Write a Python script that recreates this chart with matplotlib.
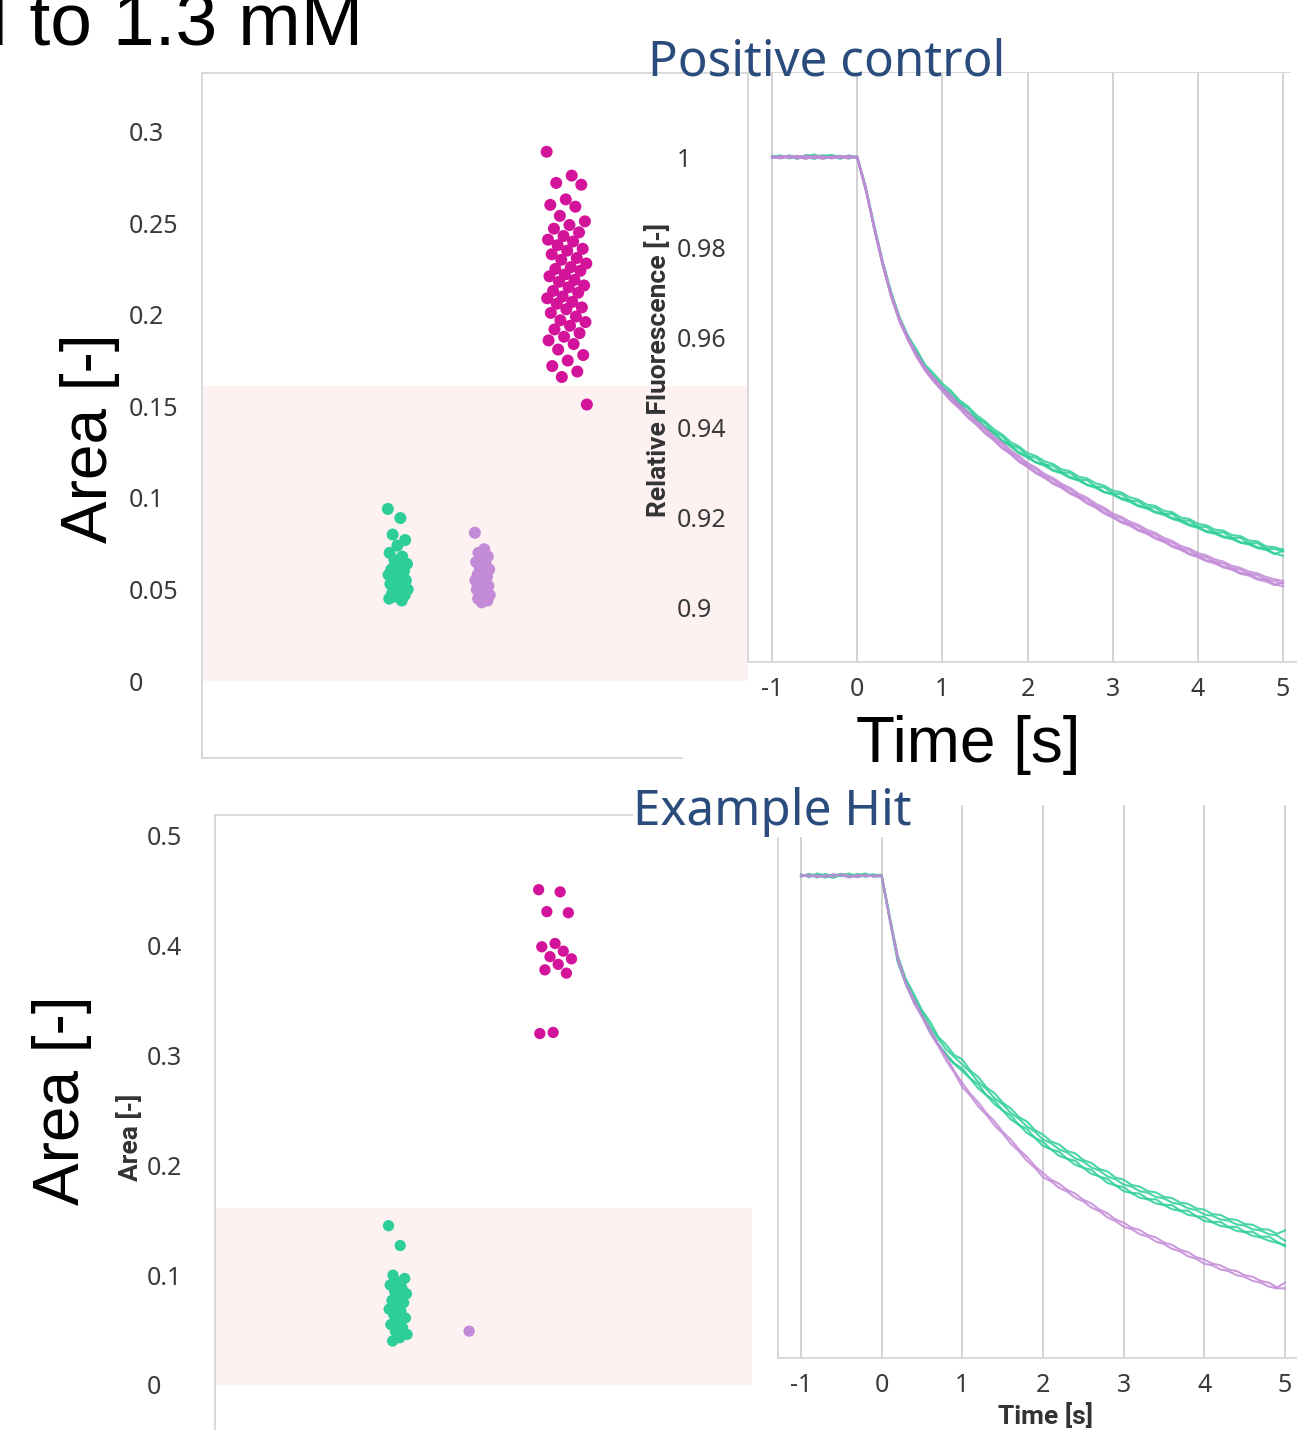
import numpy as np
import matplotlib
matplotlib.use("Agg")
import matplotlib.pyplot as plt
from matplotlib.patches import Rectangle

# ---- datos: puntos de área (scatter) ----
top_green = [0.094, 0.089, 0.080, 0.077, 0.074, 0.070, 0.068, 0.066, 0.064, 0.063,
             0.061, 0.060, 0.059, 0.058, 0.057, 0.056, 0.055, 0.054, 0.053, 0.052,
             0.051, 0.050, 0.049, 0.048, 0.047, 0.046, 0.045, 0.044]
top_purple = [0.081, 0.072, 0.070, 0.068, 0.067, 0.065, 0.064, 0.062, 0.061, 0.060,
              0.058, 0.057, 0.056, 0.055, 0.054, 0.053, 0.052, 0.051, 0.050, 0.049,
              0.048, 0.047, 0.046, 0.045, 0.044, 0.043]
top_magenta = [0.289, 0.276, 0.272, 0.271, 0.263, 0.260, 0.259, 0.254, 0.251, 0.249,
               0.247, 0.245, 0.243, 0.241, 0.240, 0.238, 0.236, 0.235, 0.233, 0.231,
               0.230, 0.228, 0.226, 0.225, 0.224, 0.222, 0.221, 0.219, 0.218, 0.216,
               0.215, 0.213, 0.212, 0.210, 0.209, 0.207, 0.206, 0.204, 0.203, 0.201,
               0.199, 0.197, 0.196, 0.194, 0.192, 0.190, 0.188, 0.186, 0.184, 0.181,
               0.178, 0.175, 0.172, 0.169, 0.166, 0.151]

bot_green = [0.145, 0.127, 0.100, 0.097, 0.094, 0.091, 0.088, 0.085, 0.083, 0.080,
             0.077, 0.075, 0.072, 0.069, 0.067, 0.064, 0.061, 0.058, 0.055, 0.052,
             0.049, 0.046, 0.043, 0.040]
bot_purple = [0.049]
bot_magenta = [0.451, 0.449, 0.431, 0.430, 0.402, 0.399, 0.395, 0.390, 0.388, 0.383,
               0.378, 0.375, 0.321, 0.320]

hit_limit = 0.161   # banda rosa (zona sin efecto)

# ---- datos: curvas de fluorescencia (x1e-4), t = -1 ... 5 s cada 0.1 s ----
time_s = np.linspace(-1, 5, 61)

pos_green = [
    [10003, 9998, 10004, 9999, 10002, 10006, 9997, 10001, 10003, 9998, 10002,
     9928, 9849, 9768, 9700, 9643, 9602, 9571, 9538, 9519, 9497,
     9481, 9460, 9446, 9427, 9413, 9396, 9384, 9367, 9357, 9342,
     9336, 9324, 9318, 9306, 9302, 9290, 9286, 9275, 9270, 9259,
     9255, 9244, 9239, 9228, 9225, 9214, 9211, 9199, 9196, 9185,
     9182, 9172, 9170, 9160, 9158, 9148, 9146, 9135, 9133, 9128],
    [10001, 10004, 9997, 10002, 10000, 9996, 10003, 10005, 9999, 10002, 9998,
     9932, 9843, 9762, 9692, 9637, 9597, 9561, 9532, 9507, 9490,
     9468, 9454, 9433, 9420, 9401, 9389, 9371, 9360, 9344, 9335,
     9322, 9318, 9305, 9300, 9289, 9284, 9272, 9268, 9256, 9252,
     9242, 9237, 9226, 9222, 9212, 9208, 9198, 9193, 9184, 9178,
     9169, 9166, 9157, 9154, 9144, 9142, 9133, 9130, 9119, 9114],
    [9998, 10002, 10001, 9996, 10005, 10001, 9999, 10003, 9996, 10004, 10000,
     9935, 9846, 9766, 9697, 9641, 9598, 9567, 9533, 9514, 9491,
     9476, 9455, 9442, 9421, 9409, 9390, 9380, 9361, 9353, 9336,
     9332, 9317, 9314, 9300, 9298, 9284, 9282, 9268, 9266, 9253,
     9251, 9237, 9235, 9222, 9221, 9208, 9207, 9193, 9192, 9179,
     9178, 9166, 9166, 9154, 9154, 9142, 9142, 9130, 9129, 9124],
    [10002, 9999, 10003, 10001, 9997, 10002, 10004, 9998, 10001, 9997, 10001,
     9929, 9840, 9760, 9690, 9636, 9595, 9560, 9530, 9505, 9486,
     9466, 9450, 9432, 9417, 9399, 9386, 9369, 9357, 9342, 9332,
     9321, 9314, 9303, 9297, 9287, 9281, 9271, 9265, 9255, 9250,
     9240, 9234, 9224, 9219, 9210, 9205, 9196, 9190, 9181, 9176,
     9167, 9163, 9155, 9151, 9143, 9139, 9131, 9127, 9118, 9125],
]
pos_purple = [
    [10001, 9997, 10002, 10000, 9996, 10003, 9999, 10001, 9998, 10002, 9999,
     9927, 9846, 9766, 9695, 9640, 9598, 9563, 9532, 9510, 9489,
     9471, 9450, 9434, 9414, 9399, 9380, 9366, 9349, 9336, 9320,
     9310, 9296, 9287, 9274, 9265, 9252, 9243, 9230, 9221, 9208,
     9201, 9190, 9183, 9172, 9165, 9154, 9147, 9136, 9130, 9120,
     9115, 9106, 9101, 9092, 9087, 9079, 9075, 9067, 9062, 9058],
    [9999, 10002, 9998, 10003, 10001, 9997, 10002, 9998, 10003, 9999, 10001,
     9933, 9840, 9759, 9690, 9633, 9592, 9555, 9525, 9501, 9481,
     9460, 9444, 9423, 9408, 9388, 9374, 9355, 9343, 9325, 9314,
     9299, 9290, 9276, 9268, 9254, 9246, 9232, 9224, 9210, 9202,
     9190, 9184, 9172, 9166, 9154, 9148, 9136, 9130, 9119, 9114,
     9104, 9100, 9090, 9086, 9076, 9073, 9064, 9061, 9051, 9046],
    [10002, 9998, 10001, 9997, 10003, 10000, 9996, 10002, 10000, 9997, 10002,
     9931, 9844, 9764, 9694, 9637, 9597, 9559, 9530, 9506, 9487,
     9467, 9445, 9430, 9409, 9395, 9375, 9362, 9344, 9332, 9315,
     9306, 9291, 9283, 9269, 9261, 9247, 9239, 9225, 9217, 9203,
     9197, 9185, 9179, 9167, 9161, 9149, 9143, 9131, 9126, 9115,
     9111, 9101, 9097, 9087, 9083, 9074, 9071, 9062, 9058, 9052],
    [9998, 10001, 10003, 9999, 9998, 10002, 10001, 9997, 10001, 10003, 9998,
     9928, 9841, 9760, 9689, 9634, 9593, 9556, 9526, 9502, 9480,
     9458, 9441, 9421, 9405, 9386, 9371, 9353, 9340, 9323, 9311,
     9297, 9287, 9274, 9265, 9252, 9243, 9230, 9221, 9208, 9199,
     9188, 9181, 9170, 9163, 9152, 9145, 9134, 9127, 9117, 9111,
     9102, 9097, 9088, 9083, 9074, 9070, 9061, 9057, 9049, 9055],
]
hit_green = [
    [10004, 9997, 10006, 10001, 9995, 10003, 9999, 10005, 9998, 10002, 10003,
     9901, 9805, 9748, 9712, 9672, 9645, 9608, 9588, 9563, 9552,
     9525, 9509, 9484, 9470, 9447, 9433, 9412, 9401, 9380, 9369,
     9352, 9345, 9329, 9323, 9307, 9300, 9285, 9279, 9264, 9259,
     9246, 9242, 9231, 9228, 9217, 9214, 9203, 9200, 9189, 9186,
     9175, 9173, 9163, 9161, 9151, 9149, 9139, 9137, 9127, 9135],
    [9998, 10005, 10000, 9996, 10004, 9999, 10006, 9997, 10003, 10000, 9998,
     9893, 9790, 9735, 9695, 9658, 9620, 9590, 9566, 9543, 9530,
     9506, 9491, 9465, 9452, 9428, 9416, 9393, 9383, 9361, 9351,
     9333, 9327, 9310, 9305, 9288, 9283, 9266, 9261, 9245, 9241,
     9227, 9225, 9212, 9211, 9198, 9197, 9184, 9183, 9170, 9168,
     9156, 9156, 9144, 9144, 9132, 9132, 9120, 9120, 9108, 9096],
    [10001, 10003, 9996, 10005, 10000, 10004, 9997, 10002, 10006, 9998, 10001,
     9898, 9798, 9745, 9703, 9668, 9634, 9603, 9577, 9558, 9540,
     9521, 9497, 9480, 9458, 9443, 9422, 9408, 9389, 9376, 9357,
     9348, 9333, 9325, 9311, 9303, 9289, 9281, 9267, 9260, 9247,
     9242, 9231, 9227, 9217, 9213, 9203, 9199, 9189, 9185, 9174,
     9171, 9162, 9159, 9150, 9147, 9138, 9135, 9126, 9123, 9110],
    [10002, 9999, 10004, 9997, 10001, 10005, 10002, 9998, 10001, 10004, 9999,
     9896, 9793, 9738, 9694, 9660, 9624, 9589, 9562, 9541, 9524,
     9505, 9481, 9465, 9443, 9428, 9406, 9393, 9373, 9361, 9341,
     9333, 9317, 9310, 9295, 9288, 9273, 9267, 9251, 9245, 9231,
     9226, 9215, 9211, 9201, 9197, 9187, 9183, 9173, 9170, 9158,
     9155, 9146, 9143, 9134, 9131, 9122, 9118, 9110, 9105, 9100],
]
hit_purple = [
    [10003, 9998, 10002, 9997, 10004, 10001, 9996, 10003, 9999, 10001, 10002,
     9897, 9803, 9740, 9700, 9660, 9627, 9590, 9560, 9524, 9495,
     9468, 9447, 9421, 9401, 9376, 9357, 9333, 9315, 9292, 9275,
     9259, 9249, 9234, 9225, 9210, 9201, 9186, 9177, 9162, 9154,
     9142, 9136, 9124, 9118, 9106, 9100, 9088, 9082, 9070, 9064,
     9054, 9050, 9040, 9036, 9026, 9022, 9012, 9008, 8996, 9008],
    [9999, 10003, 9997, 10002, 9998, 10004, 10001, 9997, 10003, 9998, 10000,
     9893, 9794, 9736, 9690, 9656, 9617, 9586, 9550, 9520, 9485,
     9464, 9437, 9417, 9391, 9372, 9347, 9329, 9305, 9288, 9265,
     9255, 9239, 9230, 9215, 9206, 9191, 9182, 9167, 9158, 9144,
     9138, 9126, 9120, 9108, 9102, 9090, 9084, 9072, 9066, 9054,
     9050, 9040, 9036, 9026, 9022, 9012, 9008, 8998, 8994, 8994],
]

# ---- estilo ----
GREEN, PURPLE, MAGENTA = '#2dce98', '#c28ad7', '#d4139b'
PINK = '#fdf2f1'
SPINE = '#d6d6d6'
TXT = '#3a3a3a'
BLUE = '#2a4c7c'
TICK_SIZE = 18
plt.rcParams['font.family'] = ['Noto Sans', 'DejaVu Sans']

W, H = 1297, 1430
fig = plt.figure(figsize=(W / 100, H / 100), dpi=100)


def box(l, t, r, b):
    # píxeles -> fracción de figura
    return [l / W, 1 - b / H, (r - l) / W, (b - t) / H]


def strip(ax, values, pos, half, color, size):
    n = len(values)
    off = ((np.arange(n) * 0.618034) % 1 - 0.5) * 2 * half
    ax.scatter(pos + off, values, s=size, color=color, edgecolors='none', zorder=3)


def scatter_panel(ax, ylim, ticks, labels, pad):
    ax.set_ylim(*ylim)
    ax.set_yticks(ticks, labels)
    ax.tick_params(axis='y', length=0, pad=pad, labelsize=TICK_SIZE, labelcolor=TXT)
    for lbl in ax.get_yticklabels():
        lbl.set_horizontalalignment('left')
    ax.set_xticks([])
    for side in ['right', 'bottom']:
        ax.spines[side].set_visible(False)
    for side in ['left', 'top']:
        ax.spines[side].set_color(SPINE)
        ax.spines[side].set_linewidth(1.3)


def line_panel(ax, xlim, ylim, greens, purples):
    ax.set_facecolor('white')
    for tr in greens:
        ax.plot(time_s, np.array(tr) / 1e4, color=GREEN, lw=1.5, alpha=0.85)
    for tr in purples:
        ax.plot(time_s, np.array(tr) / 1e4, color=PURPLE, lw=1.5, alpha=0.85)
    ax.set_xlim(*xlim)
    ax.set_ylim(*ylim)
    ax.set_xticks(range(-1, 6))
    ax.set_xticklabels(['-1', '0', '1', '2', '3', '4', '5'])
    ax.tick_params(axis='x', length=0, pad=11, labelsize=TICK_SIZE, labelcolor=TXT)
    ax.grid(axis='x', color='#d2d2d2', lw=1.4)
    ax.set_axisbelow(True)
    for side in ['right', 'top']:
        ax.spines[side].set_visible(False)
    for side in ['left', 'bottom']:
        ax.spines[side].set_color(SPINE)
        ax.spines[side].set_linewidth(1.3)


# ---- panel superior izquierdo: áreas control positivo ----
ax1 = fig.add_axes(box(202, 73, 1290, 758))
ax1.set_xlim(-2.32, 10.56)
scatter_panel(ax1, (-0.042, 0.332), [0, 0.05, 0.1, 0.15, 0.2, 0.25, 0.3],
              ['0', '0.05', '0.1', '0.15', '0.2', '0.25', '0.3'], 53)
ax1.axhspan(0, hit_limit, xmin=0, xmax=(748 - 202) / 1088, color=PINK, lw=0, zorder=0)
ax1.plot([0, (682 - 202) / 1088], [0, 0], transform=ax1.transAxes, color=SPINE,
         lw=1.3, clip_on=False)
strip(ax1, top_green, 0, 0.12, GREEN, 75)
strip(ax1, top_purple, 1, 0.09, PURPLE, 75)
strip(ax1, top_magenta, 2, 0.24, MAGENTA, 75)

# ---- panel superior derecho: curvas control positivo ----
ax2 = fig.add_axes(box(748, 73, 1297, 662))
ax2.set_zorder(1)
line_panel(ax2, (-1.282, 5.164), (0.8878, 1.0187), pos_green, pos_purple)
ax2.set_yticks([0.9, 0.92, 0.94, 0.96, 0.98, 1.0], ['0.9', '0.92', '0.94', '0.96', '0.98', '1'])
ax2.tick_params(axis='y', length=0, pad=51, labelsize=TICK_SIZE, labelcolor=TXT)
for lbl in ax2.get_yticklabels():
    lbl.set_horizontalalignment('left')

# ---- panel inferior izquierdo: áreas ejemplo hit ----
ax3 = fig.add_axes(box(215, 815, 752, 1430))
ax3.set_xlim(-2.316, 4.48)
scatter_panel(ax3, (-0.041, 0.519), [0, 0.1, 0.2, 0.3, 0.4, 0.5],
              ['0', '0.1', '0.2', '0.3', '0.4', '0.5'], 49)
ax3.axhspan(0, hit_limit, color=PINK, lw=0, zorder=0)
strip(ax3, bot_green, 0, 0.12, GREEN, 66)
strip(ax3, bot_purple, 1, 0.1, PURPLE, 66)
strip(ax3, bot_magenta, 2, 0.22, MAGENTA, 66)

# ---- panel inferior derecho: curvas ejemplo hit ----
fig.patches.append(Rectangle((752 / W, 0), (W - 752) / W, 1 - 805 / H,
                             transform=fig.transFigure, color='white', zorder=0.5))
ax4 = fig.add_axes(box(778, 805, 1297, 1358))
ax4.set_zorder(1)
line_panel(ax4, (-1.285, 5.149), (0.8824, 1.0173), hit_green, hit_purple)
ax4.set_yticks([])

# ---- textos ----
BIG = dict(fontsize=46, family='Liberation Sans')
SMALL_BOLD = dict(fontsize=19, fontweight='bold', family=['Roboto', 'DejaVu Sans'],
                  color='#333333', zorder=5)
fig.text(363 / W, 1 - 45 / H, '1 mM to 1.3 mM', ha='right', va='baseline',
         fontsize=54, family='Liberation Sans')
fig.text(648 / W, 1 - 62 / H, 'Positive control', ha='left', va='center',
         fontsize=35.5, color=BLUE)
fig.text(633 / W, 1 - 812 / H, 'Example Hit', ha='left', va='center',
         fontsize=35.5, color=BLUE, zorder=5,
         bbox=dict(facecolor='white', edgecolor='none', pad=0))
fig.text(90 / W, 1 - 438 / H, 'Area [-]', rotation=90, ha='center', va='center', **BIG)
fig.text(62 / W, 1 - 1100 / H, 'Area [-]', rotation=90, ha='center', va='center', **BIG)
fig.text(968 / W, 1 - 745 / H, 'Time [s]', ha='center', va='center', **BIG)
fig.text(658 / W, 1 - 370 / H, 'Relative Fluorescence [-]', rotation=90,
         ha='center', va='center', **SMALL_BOLD)
fig.text(130 / W, 1 - 1137 / H, 'Area [-]', rotation=90, ha='center', va='center',
         **SMALL_BOLD)
fig.text(1045 / W, 1 - 1429 / H, 'Time [s]', ha='center', va='bottom', **SMALL_BOLD)

fig.savefig('out.png', dpi=100)
